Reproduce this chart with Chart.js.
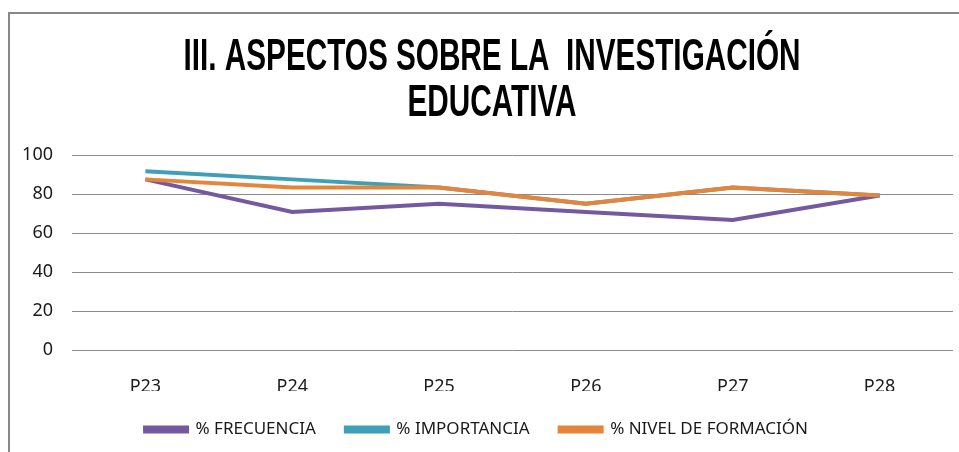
<!DOCTYPE html>
<html>
<head>
<meta charset="utf-8">
<script src="https://cdn.jsdelivr.net/npm/chart.js@4.4.0/dist/chart.umd.min.js"></script>
<style>
  html, body { margin: 0; padding: 0; background: #fff; }
  #wrap { position: relative; width: 959px; height: 452px; }
</style>
</head>
<body>
<div id="wrap"><canvas id="chart"></canvas></div>
<script>
const categories = ['P23', 'P24', 'P25', 'P26', 'P27', 'P28'];
const frecuencia = [87.5, 70.8, 75.0, 70.8, 66.7, 79.2];
const importancia = [91.7, 87.5, 83.3, 75.0, 83.3, 79.2];
const nivelFormacion = [87.5, 83.3, 83.3, 75.0, 83.3, 79.2];
const titleLines = ['III. ASPECTOS SOBRE LA  INVESTIGACIÓN', 'EDUCATIVA'];

const tickFont = { family: '"Noto Sans", sans-serif', size: 18 };

// frame + condensed bold title, drawn like the original office chart
const framePlugin = {
  id: 'frame',
  beforeDraw(chart) {
    const ctx = chart.ctx;
    ctx.save();
    ctx.fillStyle = '#fff';
    ctx.fillRect(0, 0, chart.width, chart.height);
    ctx.strokeStyle = '#888888';
    ctx.lineWidth = 2;
    ctx.beginPath();
    ctx.moveTo(9, chart.height);
    ctx.lineTo(9, 13);
    ctx.lineTo(chart.width, 13);
    ctx.stroke();
    ctx.restore();
  },
  afterDraw(chart) {
    const ctx = chart.ctx;
    ctx.save();
    ctx.font = 'bold 44px "Liberation Sans", sans-serif';
    ctx.fillStyle = '#000';
    ctx.textAlign = 'center';
    ctx.textBaseline = 'middle';
    const sx = 617 / ctx.measureText(titleLines[0]).width;
    const ys = [58, 104];
    titleLines.forEach((line, i) => {
      ctx.save();
      ctx.translate(492, ys[i]);
      ctx.scale(sx, 1);
      ctx.fillText(line, 0, 0);
      ctx.restore();
    });
    ctx.restore();
  }
};

function lineSet(label, data, color, order) {
  return {
    label,
    data,
    borderColor: color,
    backgroundColor: color,
    borderWidth: 4,
    pointRadius: 0,
    tension: 0,
    order,
  };
}

new Chart(document.getElementById('chart'), {
  type: 'line',
  data: {
    labels: categories,
    datasets: [
      lineSet('% FRECUENCIA', frecuencia, '#7459a0', 3),
      lineSet('% IMPORTANCIA', importancia, '#3d9fb8', 2),
      lineSet('% NIVEL DE FORMACIÓN', nivelFormacion, '#e5843b', 1),
    ]
  },
  options: {
    responsive: true,
    maintainAspectRatio: false,
    animation: false,
    layout: { padding: { top: 155, right: 6, bottom: 4, left: 0 } },
    plugins: {
      title: { display: false },
      tooltip: { enabled: false },
      legend: {
        position: 'bottom',
        labels: {
          boxWidth: 42,
          boxHeight: 4,
          padding: 30,
          color: '#1a1a1a',
          font: { family: '"Noto Sans", sans-serif', size: 17 },
          sort: (a, b) => a.datasetIndex - b.datasetIndex,
        }
      }
    },
    scales: {
      x: {
        offset: true,
        grid: { display: false },
        border: { display: false },
        ticks: { color: '#1a1a1a', font: tickFont, padding: 18 },
        afterFit: (s) => { s.height = 41; }
      },
      y: {
        min: 0,
        max: 100,
        grid: { color: '#8c8c8c', drawTicks: false },
        border: { display: false },
        ticks: { stepSize: 20, color: '#1a1a1a', font: tickFont, padding: 19 },
        afterFit: (s) => { s.width = 72; }
      }
    }
  },
  plugins: [framePlugin]
});
</script>
</body>
</html>
